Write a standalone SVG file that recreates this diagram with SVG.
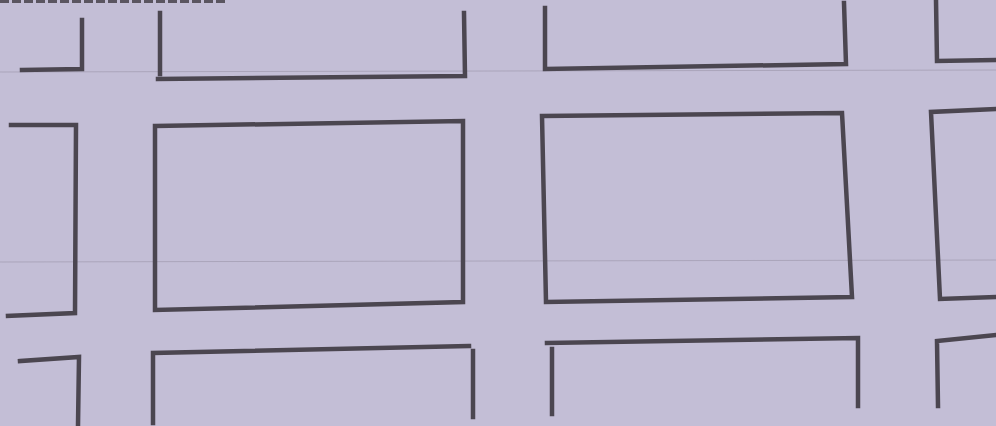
<svg xmlns="http://www.w3.org/2000/svg" width="996" height="426" viewBox="0 0 996 426">
<style>
.ln{fill:none;stroke:#4b4650;stroke-width:4.5;stroke-linecap:square;stroke-linejoin:miter}
.fold{stroke:#9a94a8;stroke-width:1;opacity:0.6}
</style>
<rect x="0" y="0" width="996" height="426" fill="#c3bed6"/>
<g id="paper">
<line class="fold" x1="0" y1="72" x2="996" y2="70"/>
<line class="fold" x1="0" y1="262" x2="996" y2="260"/>
<line x1="0" y1="1.5" x2="225" y2="1.5" stroke="#5a5560" stroke-width="3" stroke-dasharray="9 3"/>
</g>
<g id="r1c1"><path class="ln" d="M22,70 L82,69 L82,20"/></g>
<g id="r1c2"><path class="ln" d="M160,13 L160,74 M158,79 L465,76 L464,13"/></g>
<g id="r1c3"><path class="ln" d="M545,8 L545,69 L846,64 L844,3"/></g>
<g id="r1c4"><path class="ln" d="M936,0 L937,61 L996,60"/></g>
<g id="r2c1"><path class="ln" d="M11,125 L76,125 L75,313 L8,316"/></g>
<g id="r2c2"><path class="ln" d="M155,126 L463,121 L463,302 L155,310 Z"/></g>
<g id="r2c3"><path class="ln" d="M542,116 L842,113 L852,297 L546,302 Z"/></g>
<g id="r2c4"><path class="ln" d="M996,109 L931,112 L940,299 L996,297"/></g>
<g id="r3c1"><path class="ln" d="M20,361 L79,357 L78,426"/></g>
<g id="r3c2"><path class="ln" d="M153,423 L153,353 L469,346 M473,351 L473,417"/></g>
<g id="r3c3"><path class="ln" d="M547,343 L858,338 L858,406 M552,349 L552,414"/></g>
<g id="r3c4"><path class="ln" d="M938,406 L937,341 L996,335"/></g>
<g id="connectors"></g>
</svg>
